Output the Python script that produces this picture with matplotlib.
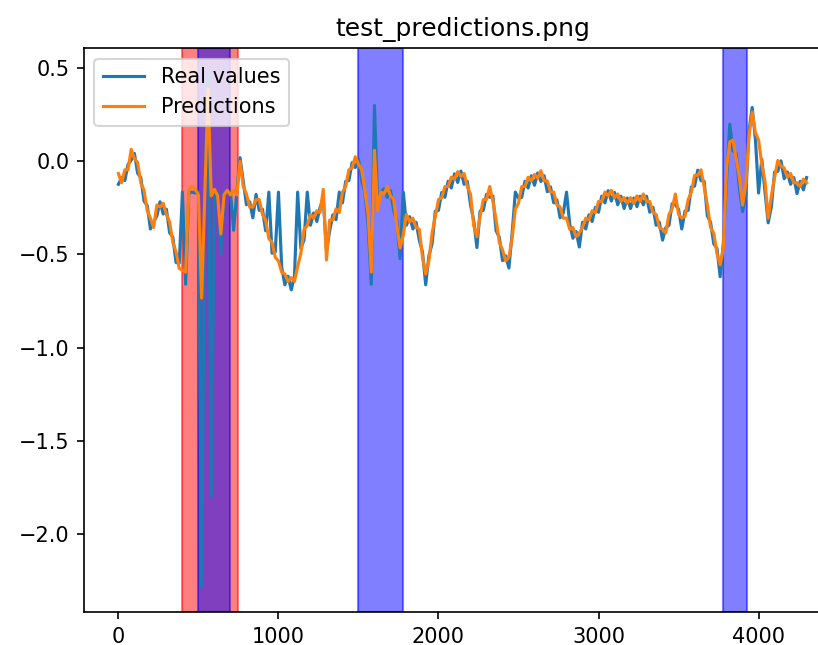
import numpy as np
import matplotlib
matplotlib.use("Agg")
import matplotlib.pyplot as plt

# sample spacing of the read-off values (time index step)
step = 20

real_values = [
    -0.123, -0.087, -0.103, -0.017, 0.007, 0.043, -0.063, -0.087, -0.213, -0.237,
    -0.363, -0.327, -0.293, -0.217, -0.283, -0.257, -0.383, -0.407, -0.543, -0.547,
    -0.165, -0.66, -0.17, -0.165, -0.17, -0.165, -2.285, -0.165, 0.47, -1.80,
    -0.165, -0.17, -0.50, -0.165, -0.17, -0.165, -0.37, -0.165, 0.02, -0.107,
    -0.233, -0.217, -0.303, -0.177, -0.263, -0.257, -0.373, -0.165, -0.493, -0.487,
    -0.165, -0.567, -0.663, -0.617, -0.69, -0.617, -0.165, -0.467, -0.423, -0.165,
    -0.343, -0.277, -0.323, -0.247, -0.20, -0.48, -0.373, -0.287, -0.313, -0.165,
    -0.223, -0.107, -0.103, -0.007, -0.033, 0.013, -0.103, -0.165, -0.343, -0.66,
    0.30, -0.237, -0.165, -0.147, -0.193, -0.157, -0.263, -0.317, -0.523, -0.165,
    -0.343, -0.297, -0.363, -0.327, -0.423, -0.487, -0.663, -0.507, -0.443, -0.267,
    -0.263, -0.167, -0.193, -0.107, -0.143, -0.067, -0.113, -0.052, -0.123, -0.107,
    -0.233, -0.317, -0.463, -0.267, -0.263, -0.177, -0.193, -0.187, -0.373, -0.407,
    -0.533, -0.507, -0.573, -0.387, -0.165, -0.197, -0.193, -0.107, -0.143, -0.077,
    -0.128, -0.062, -0.108, -0.077, -0.163, -0.137, -0.223, -0.207, -0.303, -0.277,
    -0.165, -0.337, -0.413, -0.377, -0.46, -0.327, -0.363, -0.287, -0.323, -0.247,
    -0.273, -0.187, -0.223, -0.157, -0.213, -0.167, -0.233, -0.187, -0.253, -0.197,
    -0.253, -0.197, -0.243, -0.187, -0.233, -0.187, -0.273, -0.247, -0.343, -0.327,
    -0.423, -0.357, -0.343, -0.227, -0.233, -0.257, -0.363, -0.267, -0.263, -0.137,
    -0.133, -0.047, -0.103, -0.107, -0.293, -0.327, -0.443, -0.467, -0.62, -0.437,
    -0.093, 0.20, 0.057, 0.043, -0.143, -0.27, -0.183, 0.163, 0.29, 0.12,
    -0.17, 0.013, -0.163, -0.33, -0.243, -0.057, -0.053, 0.003, -0.093, -0.057,
    -0.123, -0.087, -0.173, -0.107, -0.153, -0.087,
]

predictions = [
    -0.065, -0.115, -0.045, -0.045, 0.065, 0.015, -0.005, -0.115, -0.155, -0.265,
    -0.305, -0.355, -0.235, -0.245, -0.225, -0.285, -0.325, -0.435, -0.485, -0.575,
    -0.585, -0.595, -0.155, -0.135, -0.15, -0.18, -0.735, -0.18, 0.39, -0.185,
    -0.15, -0.185, -0.39, -0.18, -0.155, -0.18, -0.155, -0.18, 0.00, -0.135,
    -0.175, -0.245, -0.245, -0.205, -0.205, -0.285, -0.315, -0.415, -0.435, -0.515,
    -0.535, -0.595, -0.605, -0.645, -0.625, -0.645, -0.565, -0.495, -0.365, -0.345,
    -0.285, -0.305, -0.265, -0.275, -0.15, -0.53, -0.315, -0.315, -0.255, -0.275,
    -0.165, -0.135, -0.045, -0.035, 0.025, -0.015, -0.045, -0.155, -0.285, -0.595,
    0.06, -0.265, -0.165, -0.175, -0.135, -0.185, -0.205, -0.345, -0.465, -0.395,
    -0.285, -0.325, -0.305, -0.355, -0.365, -0.515, -0.605, -0.535, -0.385, -0.295,
    -0.205, -0.195, -0.135, -0.135, -0.085, -0.095, -0.055, -0.08, -0.065, -0.135,
    -0.175, -0.345, -0.405, -0.295, -0.205, -0.205, -0.135, -0.215, -0.315, -0.435,
    -0.475, -0.535, -0.515, -0.415, -0.255, -0.225, -0.135, -0.135, -0.085, -0.105,
    -0.07, -0.09, -0.05, -0.105, -0.105, -0.165, -0.165, -0.235, -0.245, -0.305,
    -0.305, -0.365, -0.355, -0.405, -0.385, -0.355, -0.305, -0.315, -0.265, -0.275,
    -0.215, -0.215, -0.165, -0.185, -0.155, -0.195, -0.175, -0.215, -0.195, -0.225,
    -0.195, -0.225, -0.185, -0.215, -0.175, -0.215, -0.215, -0.275, -0.285, -0.355,
    -0.365, -0.385, -0.285, -0.255, -0.175, -0.285, -0.305, -0.295, -0.205, -0.165,
    -0.075, -0.075, -0.045, -0.135, -0.235, -0.355, -0.385, -0.495, -0.555, -0.465,
    -0.035, 0.105, 0.115, 0.015, -0.085, -0.235, -0.125, 0.135, 0.265, 0.155,
    0.115, -0.015, -0.105, -0.305, -0.185, -0.085, 0.005, -0.025, -0.035, -0.085,
    -0.065, -0.115, -0.115, -0.135, -0.095, -0.115,
]

red_span_starts = [400]
red_span_ends = [750]
blue_span_starts = [500, 1500, 3780]
blue_span_ends = [700, 1780, 3930]

x = np.arange(len(real_values)) * step

W, H, DPI = 818, 645, 150
fig = plt.figure(figsize=(W / DPI, H / DPI), dpi=DPI)
ax = fig.add_axes([84 / W, 1 - 612.3 / H, 757 / W, 564 / H])

ax.plot(x, real_values, label="Real values")
ax.plot(x, predictions, label="Predictions")

for s, e in zip(red_span_starts, red_span_ends):
    ax.axvspan(s, e, color="red", alpha=0.5)
for s, e in zip(blue_span_starts, blue_span_ends):
    ax.axvspan(s, e, color="blue", alpha=0.5)

ax.set_title("test_predictions.png")
ax.legend(loc="upper left")

fig.savefig("out.png", dpi=DPI)
